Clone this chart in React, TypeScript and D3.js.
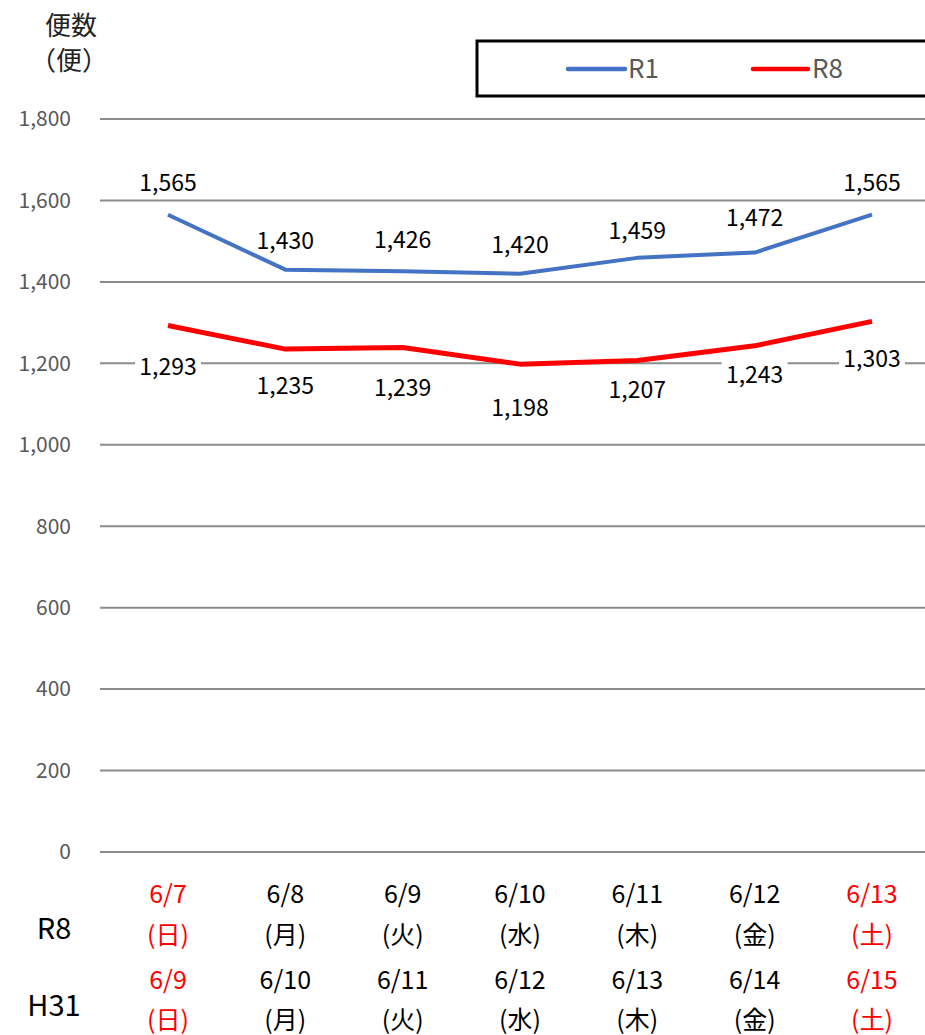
import React from "react";
import * as d3 from "d3";

const categories = ["6/7", "6/8", "6/9", "6/10", "6/11", "6/12", "6/13"];
const r8Dates = ["6/7", "6/8", "6/9", "6/10", "6/11", "6/12", "6/13"];
const h31Dates = ["6/9", "6/10", "6/11", "6/12", "6/13", "6/14", "6/15"];
const weekdays = ["日", "月", "火", "水", "木", "金", "土"];
const holiday = [true, false, false, false, false, false, true];
const r1Values = [1565, 1430, 1426, 1420, 1459, 1472, 1565];
const r8Values = [1293, 1235, 1239, 1198, 1207, 1243, 1303];
const r1LabelDy = [-32, -29, -31, -29, -27, -35, -32];
const r8LabelDy = [41, 37, 40, 44, 29, 29, 38];
const yTicks = [0, 200, 400, 600, 800, 1000, 1200, 1400, 1600, 1800];

const W = 925;
const H = 1035;
const FONT = "'Noto Sans CJK JP', 'Noto Sans', sans-serif";

export default function App() {
  const y = d3.scaleLinear().domain([0, 1800]).range([852, 119]);
  const x = d3.scalePoint<string>().domain(categories).range([168, 872]);
  const fmt = d3.format(",");
  const line = d3
    .line<number>()
    .x((_, i) => x(categories[i]) as number)
    .y((d) => y(d));

  return (
    <svg
      width={W}
      height={H}
      style={{ position: "absolute", left: 0, top: 0, background: "#fff" }}
      fontFamily={FONT}
    >
      {/* y axis title */}
      <text x={71} y={26} dy="0.35em" fontSize={26} textAnchor="middle" fill="#222">便数</text>
      <text x={69} y={61} dy="0.35em" fontSize={26} textAnchor="middle" fill="#222">（便）</text>

      {/* gridlines */}
      {yTicks.map((t) => (
        <g key={t}>
          <line x1={100} x2={W} y1={y(t)} y2={y(t)} stroke="#8c8c8c" strokeWidth={2} />
          <text x={71} y={y(t)} dy="0.35em" fontSize={21} textAnchor="end" fill="#595959">
            {fmt(t)}
          </text>
        </g>
      ))}

      {/* legend */}
      <rect x={477} y={41} width={470} height={55} fill="#fff" stroke="#000" strokeWidth={3} />
      <line x1={568} x2={625} y1={69} y2={69} stroke="#4472C4" strokeWidth={4.5} strokeLinecap="round" />
      <text x={628} y={69} dy="0.35em" fontSize={26} fill="#595959">R1</text>
      <line x1={753} x2={808} y1={69} y2={69} stroke="#FF0000" strokeWidth={4.5} strokeLinecap="round" />
      <text x={812} y={69} dy="0.35em" fontSize={26} fill="#595959">R8</text>

      {/* lines */}
      <path d={line(r1Values) || ""} fill="none" stroke="#4472C4" strokeWidth={4} strokeLinejoin="round" />
      <path d={line(r8Values) || ""} fill="none" stroke="#FF0000" strokeWidth={5} strokeLinejoin="round" />

      {/* labels */}
      {r1Values.map((v, i) => (
        <text
          key={"a" + i}
          x={x(categories[i])}
          y={y(v) + r1LabelDy[i]}
          dy="0.35em"
          fontSize={23}
          textAnchor="middle"
          fill="#000"
        >
          {fmt(v)}
        </text>
      ))}
      {r8Values.map((v, i) => (
        <g key={"b" + i}>
          <rect
            x={(x(categories[i]) as number) - 33}
            y={y(v) + r8LabelDy[i] - 13}
            width={66}
            height={26}
            fill="#fff"
          />
          <text
            x={x(categories[i])}
            y={y(v) + r8LabelDy[i]}
            dy="0.35em"
            fontSize={23}
            textAnchor="middle"
            fill="#000"
          >
            {fmt(v)}
          </text>
        </g>
      ))}

      {/* x axis category labels */}
      <text x={54} y={929} dy="0.35em" fontSize={29} textAnchor="middle" fill="#000">R8</text>
      <text x={54} y={1006} dy="0.35em" fontSize={29} textAnchor="middle" fill="#000">H31</text>
      {categories.map((c, i) => {
        const cx = x(c) as number;
        const col = holiday[i] ? "#FF0000" : "#000";
        return (
          <g key={"x" + i} fill={col} fontSize={25} textAnchor="middle">
            <text x={cx} y={894} dy="0.35em">{r8Dates[i]}</text>
            <text x={cx} y={935} dy="0.35em">({weekdays[i]})</text>
            <text x={cx} y={980} dy="0.35em">{h31Dates[i]}</text>
            <text x={cx} y={1020} dy="0.35em">({weekdays[i]})</text>
          </g>
        );
      })}
    </svg>
  );
}
